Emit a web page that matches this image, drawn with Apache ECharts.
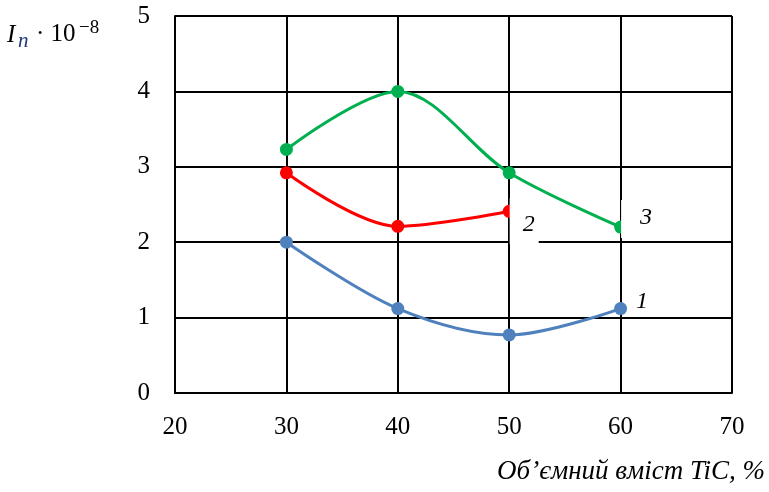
<!DOCTYPE html>
<html>
<head>
<meta charset="utf-8">
<script src="https://cdn.jsdelivr.net/npm/echarts@6/dist/echarts.min.js"></script>
<style>html,body{margin:0;padding:0;background:#fff}#c{width:769px;height:492px}</style>
</head>
<body>
<div id="c"></div>
<script>
const xValues = [30, 40, 50, 60];
const series1 = [2.0, 1.12, 0.77, 1.12];
const series2 = [2.92, 2.21, 2.41];
const series3 = [3.23, 4.0, 2.92, 2.2];
const seriesNames = ['1', '2', '3'];
const xTicks = [20, 30, 40, 50, 60, 70];
const yTicks = [0, 1, 2, 3, 4, 5];

const serif = 'Liberation Serif';
function pairs(vals) { return vals.map((v, i) => [xValues[i], v]); }

function withLabel(vals, name, labelCfg) {
  const d = pairs(vals).map(p => ({ value: p }));
  d[d.length - 1].label = Object.assign({
    show: true, formatter: name, fontFamily: serif, fontStyle: 'italic',
    fontSize: 24, lineHeight: 24, color: '#000'
  }, labelCfg);
  return d;
}

const chart = echarts.init(document.getElementById('c'));
chart.setOption({
  animation: false,
  backgroundColor: '#fff',
  grid: { left: 175, right: 37, top: 16, bottom: 99 },
  xAxis: {
    type: 'value', min: xTicks[0], max: xTicks[xTicks.length - 1], interval: 10,
    axisLine: { show: true, lineStyle: { color: '#000', width: 2 } },
    axisTick: { show: false },
    splitLine: { show: true, lineStyle: { color: '#000', width: 2 } },
    axisLabel: { color: '#000', fontFamily: serif, fontSize: 25, margin: 22 }
  },
  yAxis: {
    type: 'value', min: yTicks[0], max: yTicks[yTicks.length - 1], interval: 1,
    axisLine: { show: true, lineStyle: { color: '#000', width: 2 } },
    axisTick: { show: false },
    splitLine: { show: true, lineStyle: { color: '#000', width: 2 } },
    axisLabel: { color: '#000', fontFamily: serif, fontSize: 25, margin: 25 }
  },
  series: [
    {
      type: 'line', smooth: 0.33, symbol: 'circle', symbolSize: 13,
      itemStyle: { color: '#4f81bd' }, lineStyle: { color: '#4f81bd', width: 3 },
      data: withLabel(series1, seriesNames[0], { position: [22, -12] })
    },
    {
      type: 'line', smooth: 0.33, symbol: 'circle', symbolSize: 13,
      itemStyle: { color: '#ff0000' }, lineStyle: { color: '#ff0000', width: 3 },
      data: withLabel(series2, seriesNames[1], {
        position: [7, -6.5], backgroundColor: '#fff',
        padding: [14, 4, 8, 13]
      })
    },
    {
      type: 'line', smooth: 0.33, symbol: 'circle', symbolSize: 13,
      itemStyle: { color: '#00b050' }, lineStyle: { color: '#00b050', width: 3 },
      data: withLabel(series3, seriesNames[2], {
        position: [7, -20.5], backgroundColor: '#fff',
        padding: [6, 4, 8, 19]
      })
    }
  ],
  graphic: [
    { type: 'text', left: 7, top: 23, style: { text: 'I', font: 'italic 25px "Liberation Serif"', fill: '#000' } },
    { type: 'text', left: 18, top: 31, style: { text: 'n', font: 'italic 21px "Liberation Serif"', fill: '#1f3a7a' } },
    { type: 'text', left: 36, top: 22, style: { text: '· 10', font: '25px "Liberation Serif"', fill: '#000' } },
    { type: 'text', left: 79, top: 19, style: { text: '−8', font: '19px "Liberation Serif"', fill: '#000' } },
    { type: 'text', right: 4, top: 458, style: { text: 'Об’ємний вміст TiC, %', font: 'italic 27px "Liberation Serif"', fill: '#000' } }
  ]
});
</script>
</body>
</html>
